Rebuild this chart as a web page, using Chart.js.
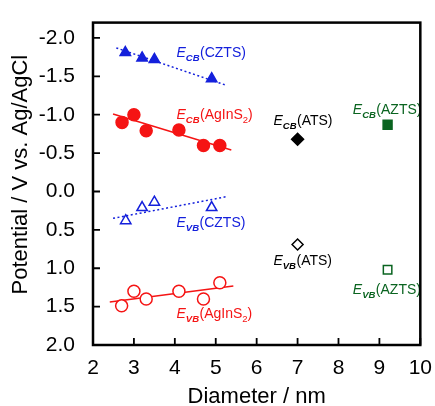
<!DOCTYPE html>
<html>
<head>
<meta charset="utf-8">
<script src="https://cdn.jsdelivr.net/npm/chart.js@4"></script>
<style>
  html, body { margin: 0; padding: 0; background: #fff; }
  #wrap { width: 435px; height: 406px; }
</style>
</head>
<body>
<div id="wrap"><canvas id="potential"></canvas></div>
<script>
// Data
var cbCztsX = [2.79, 3.2, 3.5, 4.9];
var cbCztsY = [-1.81, -1.74, -1.72, -1.47];
var vbCztsX = [2.8, 3.2, 3.5, 4.9];
var vbCztsY = [0.38, 0.21, 0.14, 0.21];

var cbAgisX = [2.71, 3.0, 3.3, 4.1, 4.7, 5.1];
var cbAgisY = [-0.90, -1.0, -0.79, -0.80, -0.60, -0.60];
var vbAgisX = [2.7, 3.0, 3.3, 4.1, 4.7, 5.1];
var vbAgisY = [1.49, 1.30, 1.40, 1.30, 1.40, 1.19];

var atsX = [7.0];
var cbAtsY = [-0.68];
var vbAtsY = [0.69];

var aztsX = [9.2];
var cbAztsY = [-0.87];
var vbAztsY = [1.02];

// fitted lines, end points
var fitCbCztsX = [2.57, 5.22], fitCbCztsY = [-1.87, -1.39];
var fitVbCztsX = [2.49, 5.24], fitVbCztsY = [0.35, 0.07];
var fitCbAgisX = [2.49, 5.38], fitCbAgisY = [-1.01, -0.54];
var fitVbAgisX = [2.41, 5.43], fitVbAgisY = [1.44, 1.23];

var yTicks = [-2.0, -1.5, -1.0, -0.5, 0.0, 0.5, 1.0, 1.5, 2.0];

// label text
var labelBand = ['CB', 'CB', 'VB', 'VB', 'CB', 'VB', 'CB', 'VB'];
var labelName = ['CZTS', 'AgInS|2', 'CZTS', 'AgInS|2', 'ATS', 'ATS', 'AZTS', 'AZTS'];
var labelAtX = [4.04, 4.04, 4.04, 4.04, 6.41, 6.41, 8.35, 8.35];
var labelAtY = [-1.746, -0.947, 0.462, 1.642, -0.871, 0.957, -1.01, 1.338];

var BLUE = '#1420dc';
var RED = '#f51414';
var GREEN = '#0a6420';
var labelColor = [BLUE, RED, BLUE, RED, '#000', '#000', GREEN, GREEN];

var FONT = "'Liberation Sans', Arial, sans-serif";

function pts(xs, ys) {
    return xs.map(function (x, i) { return {x: x, y: ys[i]}; });
}

function marks(data, style, color, fill, r) {
    return {
        data: data,
        showLine: false,
        pointStyle: style,
        pointRadius: r,
        pointBorderWidth: 1.5,
        pointBorderColor: color,
        pointBackgroundColor: fill
    };
}

function fit(data, color, dash) {
    return {
        data: data,
        showLine: true,
        borderColor: color,
        borderWidth: 1.5,
        borderDash: dash,
        pointRadius: 0,
        fill: false
    };
}

var frameAndTicks = {
    id: 'frameAndTicks',
    afterDraw: function (chart) {
        var ctx = chart.ctx, a = chart.chartArea;
        var xs = chart.scales.x, ys = chart.scales.y;
        ctx.save();
        ctx.strokeStyle = '#000';
        ctx.lineWidth = 1.8;
        ctx.beginPath();
        xs.ticks.forEach(function (t) {
            var px = xs.getPixelForValue(t.value);
            ctx.moveTo(px, a.bottom);
            ctx.lineTo(px, a.bottom - 7);
        });
        ys.ticks.forEach(function (t) {
            var py = ys.getPixelForValue(t.value);
            ctx.moveTo(a.left, py);
            ctx.lineTo(a.left + 7, py);
        });
        ctx.stroke();
        ctx.lineWidth = 2.5;
        ctx.strokeRect(a.left, a.top, a.right - a.left, a.bottom - a.top);
        ctx.restore();
    }
};

var bandLabels = {
    id: 'bandLabels',
    afterDatasetsDraw: function (chart) {
        var ctx = chart.ctx;
        var xs = chart.scales.x, ys = chart.scales.y;
        ctx.save();
        ctx.textBaseline = 'alphabetic';
        ctx.textAlign = 'left';
        labelBand.forEach(function (band, i) {
            var x = xs.getPixelForValue(labelAtX[i]);
            var y = ys.getPixelForValue(labelAtY[i]);
            ctx.fillStyle = labelColor[i];
            ctx.font = 'italic 14px ' + FONT;
            ctx.fillText('E', x, y);
            x += ctx.measureText('E').width;
            ctx.font = 'italic bold 9.5px ' + FONT;
            ctx.fillText(band, x, y + 4);
            x += ctx.measureText(band).width + 0.5;
            var parts = labelName[i].split('|');
            ctx.font = '14px ' + FONT;
            var s = '(' + parts[0] + (parts.length > 1 ? '' : ')');
            ctx.fillText(s, x, y);
            x += ctx.measureText(s).width;
            if (parts.length > 1) {
                ctx.font = '9.5px ' + FONT;
                ctx.fillText(parts[1], x, y + 4);
                x += ctx.measureText(parts[1]).width;
                ctx.font = '14px ' + FONT;
                ctx.fillText(')', x, y);
            }
        });
        ctx.restore();
    }
};

var ctx = document.getElementById('potential').getContext('2d');
var chart = new Chart(ctx, {
    type: 'scatter',
    data: {
        datasets: [
            marks(pts(cbCztsX, cbCztsY), 'triangle', BLUE, BLUE, 6),
            marks(pts(vbCztsX, vbCztsY), 'triangle', BLUE, '#fff', 6),
            marks(pts(cbAgisX, cbAgisY), 'circle', RED, RED, 6),
            marks(pts(vbAgisX, vbAgisY), 'circle', RED, '#fff', 6),
            marks(pts(atsX, cbAtsY), 'rectRot', '#000', '#000', 6),
            marks(pts(atsX, vbAtsY), 'rectRot', '#000', '#fff', 5.5),
            marks(pts(aztsX, cbAztsY), 'rect', GREEN, GREEN, 6.3),
            marks(pts(aztsX, vbAztsY), 'rect', GREEN, '#fff', 6),
            fit(pts(fitCbCztsX, fitCbCztsY), BLUE, [2, 2.5]),
            fit(pts(fitVbCztsX, fitVbCztsY), BLUE, [2, 2.5]),
            fit(pts(fitCbAgisX, fitCbAgisY), RED, []),
            fit(pts(fitVbAgisX, fitVbAgisY), RED, [])
        ]
    },
    options: {
        responsive: true,
        maintainAspectRatio: false,
        animation: false,
        layout: { padding: { top: 14, right: 12, left: 0, bottom: 0 } },
        plugins: {
            legend: { display: false },
            tooltip: { enabled: false }
        },
        scales: {
            x: {
                type: 'linear',
                min: 2,
                max: 10,
                ticks: { stepSize: 1, color: '#000', padding: 3, font: { family: FONT, size: 21 } },
                grid: { display: false },
                border: { display: false },
                title: {
                    display: true,
                    text: 'Diameter / nm',
                    color: '#000',
                    font: { family: FONT, size: 22, lineHeight: 0.8 },
                    padding: { bottom: 0 }
                },
                afterFit: function (s) { s.height = 61; }
            },
            y: {
                type: 'linear',
                reverse: true,
                min: -2.2,
                max: 2.0,
                afterBuildTicks: function (s) {
                    s.ticks = yTicks.map(function (v) { return {value: v}; });
                },
                ticks: {
                    color: '#000',
                    padding: 10,
                    font: { family: FONT, size: 21 },
                    callback: function (v) { return Number(v).toFixed(1); }
                },
                grid: { display: false },
                border: { display: false },
                title: {
                    display: true,
                    // leading spaces nudge the centred title up a little
                    text: '   Potential / V vs. Ag/AgCl',
                    color: '#000',
                    font: { family: FONT, size: 22, lineHeight: 1 },
                    padding: { top: 10 }
                },
                afterFit: function (s) { s.width = 93; }
            }
        }
    },
    plugins: [frameAndTicks, bandLabels]
});
</script>
</body>
</html>
